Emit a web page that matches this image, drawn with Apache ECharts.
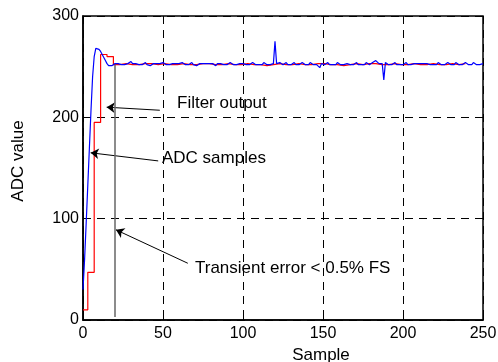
<!DOCTYPE html>
<html>
<head>
<meta charset="utf-8">
<script src="https://cdn.jsdelivr.net/npm/echarts@6/dist/echarts.min.js"></script>
<style>
  html, body { margin: 0; padding: 0; background: #fff; }
  #chart { width: 498px; height: 362px; }
</style>
</head>
<body>
<div id="chart"></div>
<script>
// ADC sample-and-hold output: step points (sample index, held value)
const adcX = [0, 3, 7, 11, 15,
  19, 23, 27, 31, 35, 39, 43, 47, 51, 55, 59, 63, 67, 71, 75, 79, 83, 87, 91, 95, 99,
  103, 107, 111, 115, 119, 123, 127, 131, 135, 139, 143, 147, 151, 155, 159, 163, 167, 171, 175, 179,
  183, 187, 191, 195, 199, 203, 207, 211, 215, 219, 223, 227, 231, 235, 239, 243, 247, 250];
const adcY = [10, 47, 195, 262, 260,
  252, 253, 252, 252, 253, 253, 252, 253, 252, 252, 253, 252, 252, 253, 253, 252,
  252, 253, 252, 252, 253, 252, 252, 251, 252, 253, 252, 252, 253, 252, 252, 253,
  253, 252, 252, 251, 252, 253, 252, 253, 253, 252, 252, 253, 252, 252, 253, 252,
  252, 253, 252, 252, 253, 252, 253];

// filter output, one value per sample 0..250
const filterOut = [
  30, 60, 96, 133, 170, 207, 240, 260, 268, 269,
  267, 265, 262, 259, 256, 253, 251, 250, 251, 252,
  253, 252, 253, 254, 252, 253, 252, 251, 253, 254,
  255, 253, 252, 253, 254, 252, 253, 252, 253, 254,
  252, 253, 251, 252, 253, 254, 253, 252, 253, 252,
  254, 253, 252, 253, 252, 251, 253, 254, 253, 252,
  253, 252, 254, 253, 252, 253, 252, 253, 254, 252,
  253, 251, 252, 253, 254, 253, 252, 253, 252, 253,
  254, 253, 252, 251, 253, 252, 253, 254, 252, 253,
  252, 253, 254, 253, 252, 253, 252, 251, 253, 252,
  253, 254, 252, 253, 252, 253, 254, 253, 252, 253,
  252, 253, 252, 254, 253, 252, 253, 252, 251, 253,
  275, 253, 252, 254, 253, 252, 253, 254, 252, 253,
  252, 253, 254, 252, 253, 252, 253, 254, 253, 252,
  253, 252, 254, 253, 252, 253, 252, 251, 249, 253,
  253, 252, 253, 254, 252, 253, 252, 253, 252, 254,
  253, 252, 253, 252, 251, 253, 254, 252, 253, 252,
  253, 254, 252, 253, 252, 253, 252, 254, 253, 252,
  253, 254, 253, 256, 255, 253, 254, 253, 237, 254,
  254, 252, 253, 252, 253, 254, 252, 253, 252, 253,
  252, 253, 254, 252, 253, 252, 251, 253, 252, 253,
  254, 253, 252, 253, 252, 253, 254, 252, 253, 252,
  253, 252, 254, 253, 252, 253, 252, 253, 254, 253,
  252, 253, 252, 254, 253, 252, 253, 252, 253, 254,
  253, 252, 253, 252, 254, 253, 252, 253, 252, 253,
  253
];

const xTicks = [0, 50, 100, 150, 200, 250];
const yTicks = [0, 100, 200, 300];

// annotation arrows: [from, to] in data units
const arrows = [
  [[48, 207], [14.8, 210]],
  [[47, 157], [4.8, 165]],
  [[65.5, 56], [20.6, 89]]
];
const settleMarker = [[20, 3], [20, 252]];

const FONT = '"Liberation Sans", Arial, sans-serif';

const chart = echarts.init(document.getElementById('chart'));

const option = {
  animation: false,
  backgroundColor: '#fff',
  grid: {
    left: 83, right: 15, top: 16, bottom: 42,
    outerBoundsMode: 'none',
    containLabel: false,
    show: true, borderColor: '#000', borderWidth: 1.5, backgroundColor: 'transparent'
  },
  xAxis: {
    type: 'value',
    min: xTicks[0], max: xTicks[xTicks.length - 1], interval: 50,
    name: 'Sample', nameLocation: 'middle', nameGap: 22,
    nameTextStyle: { color: '#000', fontSize: 17, fontFamily: FONT, padding: [0, 0, 0, 76] },
    axisLine: { lineStyle: { color: '#000', width: 1.5 } },
    axisTick: { inside: true, length: 4, lineStyle: { color: '#000' } },
    axisLabel: { color: '#000', fontSize: 16, fontFamily: FONT, margin: 6 },
    splitLine: { show: true, lineStyle: { color: '#000', type: [8, 6], width: 1 } }
  },
  yAxis: {
    type: 'value',
    min: yTicks[0], max: yTicks[yTicks.length - 1], interval: 100,
    name: 'ADC value', nameLocation: 'middle', nameGap: 56,
    nameTextStyle: { color: '#000', fontSize: 17, fontFamily: FONT, padding: [0, 0, 0, 14] },
    axisLine: { show: true, lineStyle: { color: '#000', width: 1.5 } },
    axisTick: { show: true, inside: true, length: 4, lineStyle: { color: '#000' } },
    axisLabel: { color: '#000', fontSize: 16, fontFamily: FONT, margin: 4 },
    splitLine: { show: true, lineStyle: { color: '#000', type: [8, 6], width: 1 } }
  },
  series: [
    {
      name: 'ADC samples',
      type: 'line',
      step: 'end',
      data: adcX.map((x, i) => [x, adcY[i]]),
      showSymbol: false,
      lineStyle: { color: '#ff0000', width: 1.2 },
      itemStyle: { color: '#ff0000' },
      z: 2
    },
    {
      name: 'Filter output',
      type: 'line',
      data: filterOut.map((v, i) => [i, v]),
      showSymbol: false,
      lineStyle: { color: '#0000ff', width: 1.2 },
      itemStyle: { color: '#0000ff' },
      z: 3
    },
    {
      name: 'annotations',
      type: 'line',
      data: [],
      z: 4,
      markLine: {
        silent: true,
        animation: false,
        symbol: ['none', 'arrow'],
        symbolSize: 8,
        label: { show: false },
        lineStyle: { color: '#000', width: 1, type: 'solid' },
        data: arrows.map(a => [{ coord: a[0] }, { coord: a[1] }])
          .concat([[
            { coord: settleMarker[0], symbol: 'none', lineStyle: { color: '#666', width: 1.5 } },
            { coord: settleMarker[1], symbol: 'none' }
          ]])
      }
    }
  ],
  graphic: [
    { type: 'text', left: 177, top: 95, style: { text: 'Filter output', fontSize: 17, fontFamily: FONT, fill: '#000' } },
    { type: 'text', left: 162, top: 150, style: { text: 'ADC samples', fontSize: 17, fontFamily: FONT, fill: '#000' } },
    { type: 'text', left: 195, top: 260, style: { text: 'Transient error < 0.5% FS', fontSize: 17, fontFamily: FONT, fill: '#000' } }
  ]
};

chart.setOption(option);
</script>
</body>
</html>
